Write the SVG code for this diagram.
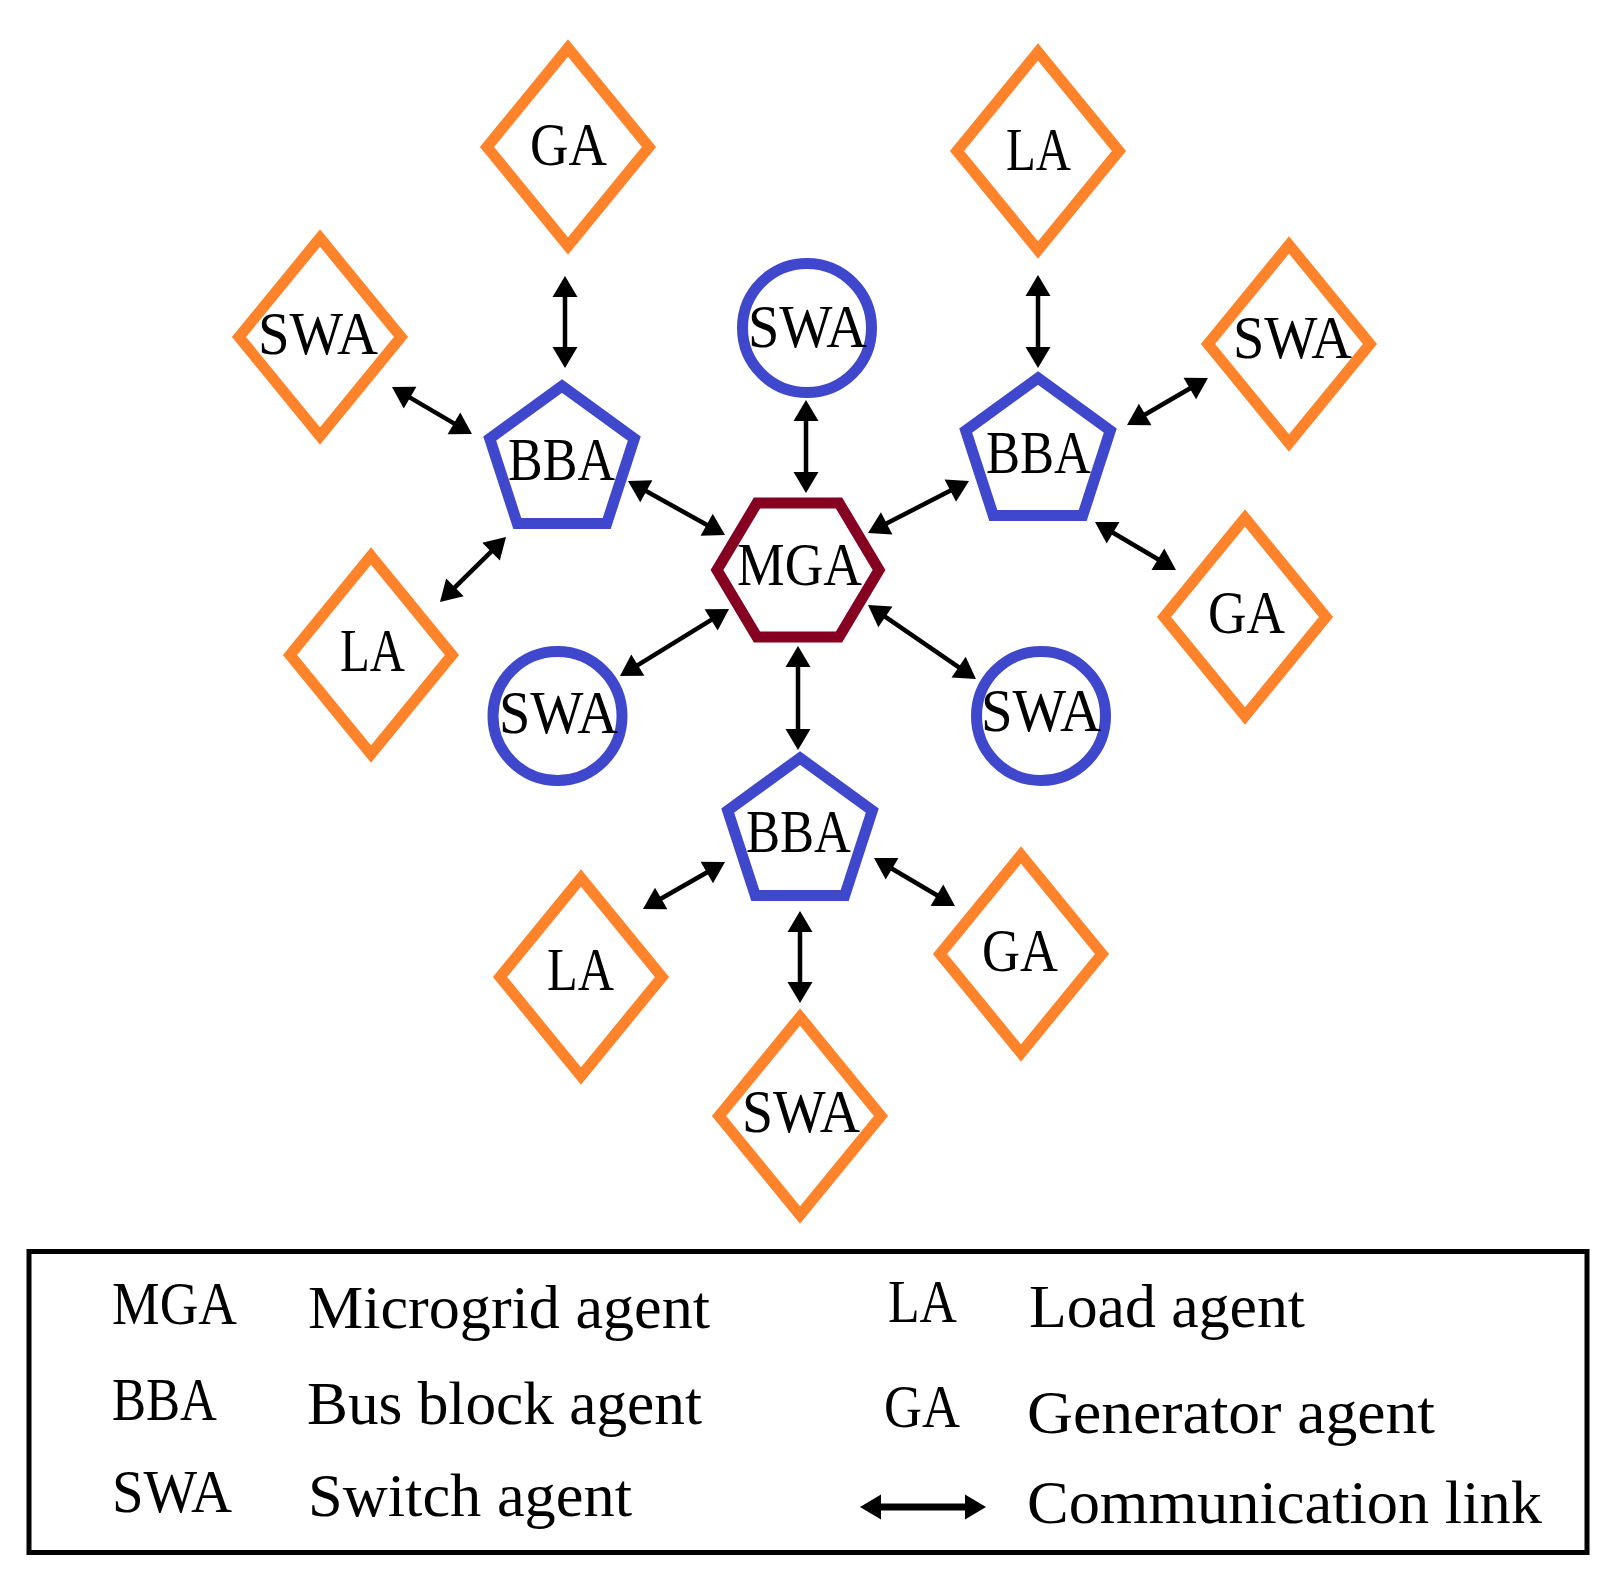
<svg xmlns="http://www.w3.org/2000/svg" width="1624" height="1583" viewBox="0 0 1624 1583">
<style>
.dia{fill:#fff;stroke:#FF832A;stroke-width:11;stroke-linejoin:miter}
.pen{fill:#fff;stroke:#3F48CC;stroke-width:11;stroke-linejoin:miter}
.cir{fill:#fff;stroke:#3F48CC;stroke-width:11}
.hex{fill:#fff;stroke:#850021;stroke-width:11;stroke-linejoin:miter}
.lbl{font-family:"Liberation Serif","Times New Roman",serif;font-size:61px;fill:#000}
.leg{font-family:"Liberation Serif","Times New Roman",serif;font-size:62px;fill:#000}
.ln{stroke:#000;stroke-width:4.5;fill:none;marker-start:url(#ah);marker-end:url(#ah)}
</style>
<defs>
<marker id="ah" markerUnits="userSpaceOnUse" markerWidth="34" markerHeight="34" viewBox="-6 -17 34 34" refX="0" refY="0" orient="auto-start-reverse">
<path d="M-3,-12.5 L18,0 L-3,12.5 Z" fill="#000"/>
</marker>
</defs>
<rect width="1624" height="1583" fill="#fff"/>

<g id="connectors">
<line class="ln" x1="565" y1="294" x2="565" y2="350"/>
<line class="ln" x1="407.5" y1="396.1" x2="456.5" y2="424.9"/>
<line class="ln" x1="493.2" y1="549.6" x2="452.8" y2="589.4"/>
<line class="ln" x1="643.7" y1="489.8" x2="709.3" y2="526.2"/>
<line class="ln" x1="806" y1="418" x2="806" y2="475"/>
<line class="ln" x1="1038" y1="293" x2="1038" y2="350"/>
<line class="ln" x1="1142.6" y1="416" x2="1192.4" y2="387"/>
<line class="ln" x1="1110.5" y1="531.2" x2="1160.5" y2="560.8"/>
<line class="ln" x1="953" y1="489.2" x2="884" y2="524.8"/>
<line class="ln" x1="713.7" y1="618.4" x2="635.3" y2="666.6"/>
<line class="ln" x1="882.9" y1="615.2" x2="961.1" y2="668.8"/>
<line class="ln" x1="798" y1="664" x2="798" y2="732"/>
<line class="ln" x1="709.4" y1="871" x2="658.6" y2="900"/>
<line class="ln" x1="889.5" y1="867.2" x2="939.5" y2="896.8"/>
<line class="ln" x1="800" y1="929" x2="800" y2="985"/>
</g>

<g id="mga">
<polygon class="hex" points="757,503 839,503 879,570 839,637 757,637 717,570"/>
<text class="lbl" x="737" y="585" textLength="125" lengthAdjust="spacingAndGlyphs">MGA</text>
</g>

<g id="bba-left">
<polygon class="pen" points="562,386 634.3,438.5 606.7,523.5 517.3,523.5 489.7,438.5"/>
<text class="lbl" x="508" y="480" textLength="107" lengthAdjust="spacingAndGlyphs">BBA</text>
</g>
<g id="bba-right">
<polygon class="pen" points="1038,378 1110.3,430.5 1082.7,515.5 993.3,515.5 965.7,430.5"/>
<text class="lbl" x="986" y="473" textLength="105" lengthAdjust="spacingAndGlyphs">BBA</text>
</g>
<g id="bba-bottom">
<polygon class="pen" points="800,758 872.3,810.5 844.7,895.5 755.3,895.5 727.7,810.5"/>
<text class="lbl" x="746" y="852" textLength="105" lengthAdjust="spacingAndGlyphs">BBA</text>
</g>

<g id="swa-circle-top">
<circle class="cir" cx="807" cy="328" r="64.5"/>
<text class="lbl" x="748" y="347" textLength="119" lengthAdjust="spacingAndGlyphs">SWA</text>
</g>
<g id="swa-circle-left">
<circle class="cir" cx="557.5" cy="716" r="64.5"/>
<text class="lbl" x="499" y="733" textLength="119" lengthAdjust="spacingAndGlyphs">SWA</text>
</g>
<g id="swa-circle-right">
<circle class="cir" cx="1041" cy="716" r="64.5"/>
<text class="lbl" x="981" y="731" textLength="120" lengthAdjust="spacingAndGlyphs">SWA</text>
</g>

<g id="ga-top">
<polygon class="dia" points="568,48 649,147 568,246 487,147"/>
<text class="lbl" x="530" y="165" textLength="77" lengthAdjust="spacingAndGlyphs">GA</text>
</g>
<g id="la-top">
<polygon class="dia" points="1038,52 1119,151 1038,250 957,151"/>
<text class="lbl" x="1006" y="170" textLength="65" lengthAdjust="spacingAndGlyphs">LA</text>
</g>
<g id="swa-left">
<polygon class="dia" points="320,238 401,337 320,436 239,337"/>
<text class="lbl" x="258" y="354" textLength="120" lengthAdjust="spacingAndGlyphs">SWA</text>
</g>
<g id="swa-right">
<polygon class="dia" points="1289,245 1370,344 1289,443 1208,344"/>
<text class="lbl" x="1233" y="358" textLength="119" lengthAdjust="spacingAndGlyphs">SWA</text>
</g>
<g id="la-left">
<polygon class="dia" points="371,556 452,655 371,754 290,655"/>
<text class="lbl" x="340" y="671" textLength="65" lengthAdjust="spacingAndGlyphs">LA</text>
</g>
<g id="ga-right">
<polygon class="dia" points="1245,518 1326,617 1245,716 1164,617"/>
<text class="lbl" x="1208" y="633" textLength="77" lengthAdjust="spacingAndGlyphs">GA</text>
</g>
<g id="la-bottom">
<polygon class="dia" points="581,878 662,977 581,1076 500,977"/>
<text class="lbl" x="547" y="990" textLength="67" lengthAdjust="spacingAndGlyphs">LA</text>
</g>
<g id="ga-bottom">
<polygon class="dia" points="1021,855 1102,954 1021,1053 940,954"/>
<text class="lbl" x="982" y="971" textLength="76" lengthAdjust="spacingAndGlyphs">GA</text>
</g>
<g id="swa-bottom">
<polygon class="dia" points="800,1017 881,1116 800,1215 719,1116"/>
<text class="lbl" x="742" y="1132" textLength="118" lengthAdjust="spacingAndGlyphs">SWA</text>
</g>

<g id="legend">
<rect x="29" y="1251.5" width="1558" height="301" fill="none" stroke="#000" stroke-width="5"/>
<text class="leg" x="112" y="1324" textLength="125" lengthAdjust="spacingAndGlyphs">MGA</text>
<text class="leg" x="308" y="1328" textLength="402" lengthAdjust="spacingAndGlyphs">Microgrid agent</text>
<text class="leg" x="112" y="1420" textLength="105" lengthAdjust="spacingAndGlyphs">BBA</text>
<text class="leg" x="307" y="1424" textLength="395" lengthAdjust="spacingAndGlyphs">Bus block agent</text>
<text class="leg" x="112" y="1512" textLength="120" lengthAdjust="spacingAndGlyphs">SWA</text>
<text class="leg" x="308" y="1516" textLength="324" lengthAdjust="spacingAndGlyphs">Switch agent</text>
<text class="leg" x="888" y="1322" textLength="69" lengthAdjust="spacingAndGlyphs">LA</text>
<text class="leg" x="1029" y="1327" textLength="276" lengthAdjust="spacingAndGlyphs">Load agent</text>
<text class="leg" x="884" y="1427" textLength="76" lengthAdjust="spacingAndGlyphs">GA</text>
<text class="leg" x="1027" y="1433" textLength="408" lengthAdjust="spacingAndGlyphs">Generator agent</text>
<line x1="878" y1="1507" x2="968" y2="1507" stroke="#000" stroke-width="7" marker-start="url(#ah)" marker-end="url(#ah)"/>
<text class="leg" x="1027" y="1523" textLength="515" lengthAdjust="spacingAndGlyphs">Communication link</text>
</g>
</svg>
